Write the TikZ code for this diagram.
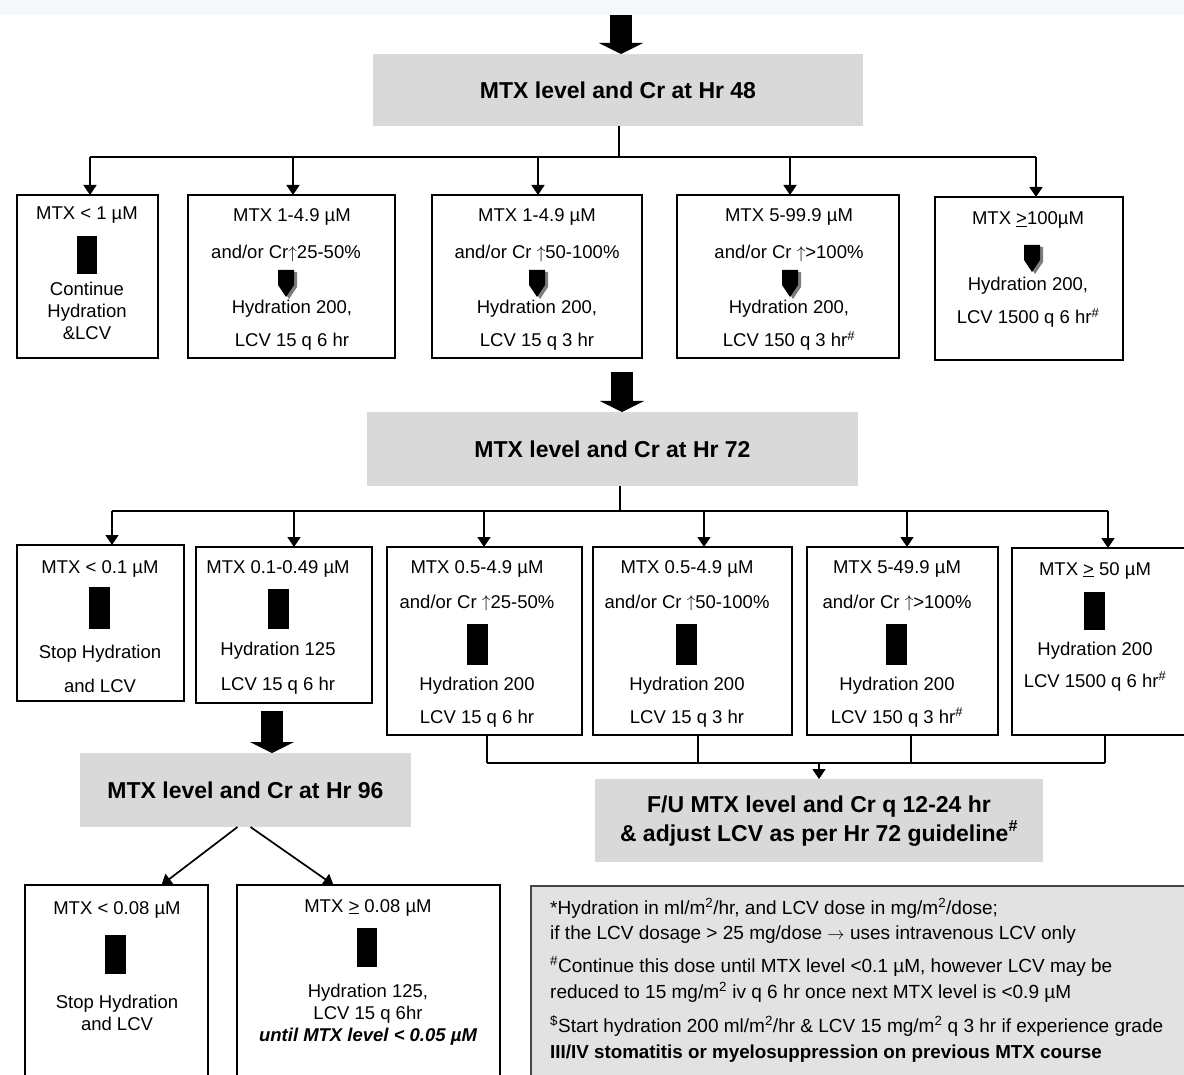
\documentclass[tikz,border=0pt]{standalone}
\usepackage{fontspec}
\setmainfont{Liberation Sans}
\usetikzlibrary{arrows.meta}
\definecolor{hdrgray}{RGB}{217,217,217}
\definecolor{fngray}{RGB}{226,226,226}
\definecolor{fnline}{RGB}{70,70,70}
\definecolor{topblue}{RGB}{245,249,252}
\definecolor{shadowgray}{RGB}{125,125,125}
\newcommand\upar{\raisebox{0.5pt}{$\uparrow$}}
\newcommand\rtar{$\rightarrow$}
\newcommand\shieldicon[2]{%
  \fill[shadowgray] (#1-5,#2+2) -- (#1+11,#2+2) -- (#1+11,#2+17) -- (#1+3,#2+29) -- (#1-5,#2+17) -- cycle;
  \fill[black] (#1-8,#2) -- (#1+8,#2) -- (#1+8,#2+15) -- (#1,#2+27) -- (#1-8,#2+15) -- cycle;}
\newcommand\fbar[4]{\fill[black] (#1,#2) rectangle (#3,#4);}
\begin{document}
\begin{tikzpicture}[x=1pt,y=-1pt,
  box/.style={draw=black, line width=1.5pt, fill=white, inner sep=0pt, outer sep=0pt},
  hdr/.style={fill=hdrgray, inner sep=0pt, outer sep=0pt, align=center,
              font=\fontsize{23}{29}\selectfont\bfseries},
  txt/.style={inner sep=0pt, anchor=base, font=\fontsize{18.5}{22}\selectfont},
  fn/.style={inner sep=0pt, anchor=base west, font=\fontsize{19}{23}\selectfont},
  conn/.style={line width=1.7pt},
  arr/.style={conn, -{Triangle[width=13pt,length=10pt]}},
  blk/.style={line width=22pt, -{Triangle[width=44pt,length=11pt]}}]
\useasboundingbox (0,0) rectangle (1184,1075);
\clip (0,0) rectangle (1184,1075);
\fill[white] (0,0) rectangle (1184,1075);
\fill[topblue] (0,0) rectangle (1184,15);

% ---------- headers ----------
\node[hdr, minimum width=490pt, minimum height=72pt] (h48) at (618,90) {MTX level and Cr at Hr 48};
\node[hdr, minimum width=491pt, minimum height=74pt] (h72) at (612.5,449) {MTX level and Cr at Hr 72};
\node[hdr, minimum width=331pt, minimum height=74pt] (h96) at (245.5,790) {MTX level and Cr at Hr 96};
\node[hdr, minimum width=448pt, minimum height=83pt] (fu) at (819,820.5) {};
\node[inner sep=0pt, anchor=base, font=\fontsize{23}{29}\selectfont\bfseries] (fu1) at (819,812) {F/U MTX level and Cr q 12-24 hr};
\node[inner sep=0pt, anchor=base, font=\fontsize{23}{29}\selectfont\bfseries] (fu2) at (819,841) {\& adjust LCV as per Hr 72 guideline\textsuperscript{\#}};

% ---------- row 1 boxes ----------
\node[box, minimum width=141pt, minimum height=163pt] (b1) at (87.5,276.5) {};
\node[box, minimum width=207pt, minimum height=163pt] (b2) at (291.5,276.5) {};
\node[box, minimum width=210pt, minimum height=163pt] (b3) at (537,276.5) {};
\node[box, minimum width=222pt, minimum height=163pt] (b4) at (788,276.5) {};
\node[box, minimum width=188pt, minimum height=163pt] (b5) at (1029,278.5) {};

\node[txt] (b1a) at (87,220) {MTX < 1 µM};
\fbar{77}{236}{97}{274}
\node[txt] (b1b) at (87,296) {Continue};
\node[txt] (b1c) at (87,318) {Hydration};
\node[txt] (b1d) at (87,340) {\&LCV};

\node[txt] (b2a) at (292,222) {MTX 1-4.9 µM};
\node[txt] (b2b) at (286,259) {and/or Cr\upar25-50\%};
\shieldicon{286}{270}
\node[txt] (b2c) at (292,314) {Hydration 200,};
\node[txt] (b2d) at (292,347) {LCV 15 q 6 hr};

\node[txt] (b3a) at (537,222) {MTX 1-4.9 µM};
\node[txt] (b3b) at (537,259) {and/or Cr \upar50-100\%};
\shieldicon{537}{270}
\node[txt] (b3c) at (537,314) {Hydration 200,};
\node[txt] (b3d) at (537,347) {LCV 15 q 3 hr};

\node[txt] (b4a) at (789,222) {MTX 5-99.9 µM};
\node[txt] (b4b) at (789,259) {and/or Cr \upar>100\%};
\shieldicon{790}{270}
\node[txt] (b4c) at (789,314) {Hydration 200,};
\node[txt] (b4d) at (789,347) {LCV 150 q 3 hr\textsuperscript{\#}};

\node[txt] (b5a) at (1028,225) {MTX \underline{>}100µM};
\shieldicon{1032}{245}
\node[txt] (b5b) at (1028,291) {Hydration 200,};
\node[txt] (b5c) at (1028,324) {LCV 1500 q 6 hr\textsuperscript{\#}};

% ---------- row 2 boxes ----------
\node[box, minimum width=167pt, minimum height=156pt] (c1) at (100.5,623) {};
\node[box, minimum width=176pt, minimum height=156pt] (c2) at (284,625) {};
\node[box, minimum width=195pt, minimum height=188pt] (c3) at (484.5,641) {};
\node[box, minimum width=199pt, minimum height=188pt] (c4) at (692.5,641) {};
\node[box, minimum width=191pt, minimum height=188pt] (c5) at (902.5,641) {};
\node[box, minimum width=178pt, minimum height=187pt] (c6) at (1101,641.5) {};

\node[txt] (c1a) at (100,573) {MTX < 0.1 µM};
\fbar{89}{587}{110}{629}
\node[txt] (c1b) at (100,658) {Stop Hydration};
\node[txt] (c1c) at (100,692) {and LCV};

\node[txt] (c2a) at (278,573) {MTX 0.1-0.49 µM};
\fbar{268}{589}{289}{629}
\node[txt] (c2b) at (278,655) {Hydration 125};
\node[txt] (c2c) at (278,690) {LCV 15 q 6 hr};

\node[txt] (c3a) at (477,573) {MTX 0.5-4.9 µM};
\node[txt] (c3b) at (477,608) {and/or Cr \upar25-50\%};
\fbar{467}{624}{488}{665}
\node[txt] (c3c) at (477,690) {Hydration 200};
\node[txt] (c3d) at (477,723) {LCV 15 q 6 hr};

\node[txt] (c4a) at (687,573) {MTX 0.5-4.9 µM};
\node[txt] (c4b) at (687,608) {and/or Cr \upar50-100\%};
\fbar{676}{624}{697}{665}
\node[txt] (c4c) at (687,690) {Hydration 200};
\node[txt] (c4d) at (687,723) {LCV 15 q 3 hr};

\node[txt] (c5a) at (897,573) {MTX 5-49.9 µM};
\node[txt] (c5b) at (897,608) {and/or Cr \upar>100\%};
\fbar{886}{624}{907}{665}
\node[txt] (c5c) at (897,690) {Hydration 200};
\node[txt] (c5d) at (897,723) {LCV 150 q 3 hr\textsuperscript{\#}};

\node[txt] (c6a) at (1095,575) {MTX \underline{>} 50 µM};
\fbar{1084}{592}{1105}{630}
\node[txt] (c6b) at (1095,655) {Hydration 200};
\node[txt] (c6c) at (1095,687) {LCV 1500 q 6 hr\textsuperscript{\#}};

% ---------- row 3 boxes ----------
\node[box, minimum width=183pt, minimum height=200pt] (d1) at (116.5,985) {};
\node[box, minimum width=263pt, minimum height=200pt] (d2) at (368.5,985) {};

\node[txt] (d1a) at (117,914) {MTX < 0.08 µM};
\fbar{105}{935}{126}{974}
\node[txt] (d1b) at (117,1008) {Stop Hydration};
\node[txt] (d1c) at (117,1030) {and LCV};

\node[txt] (d2a) at (368,912) {MTX \underline{>} 0.08 µM};
\fbar{357}{928}{377}{967}
\node[txt] (d2b) at (368,997) {Hydration 125,};
\node[txt] (d2c) at (368,1019) {LCV 15 q 6hr};
\node[txt, font=\fontsize{18.5}{22}\selectfont\bfseries\itshape] (d2d) at (368,1041) {until MTX level < 0.05 µM};

% ---------- footnote ----------
\node[draw=fnline, fill=fngray, line width=1.5pt, inner sep=0pt, outer sep=0pt,
      minimum width=659pt, minimum height=199pt] (fb) at (860.5,985.5) {};
\node[fn] (f1) at (550,914) {*Hydration in ml/m\textsuperscript{2}/hr, and LCV dose in mg/m\textsuperscript{2}/dose;};
\node[fn] (f2) at (550,939) {if the LCV dosage > 25 mg/dose \rtar{} uses intravenous LCV only};
\node[fn] (f3) at (550,972) {\textsuperscript{\#}Continue this dose until MTX level <0.1 µM, however LCV may be};
\node[fn] (f4) at (550,998) {reduced to 15 mg/m\textsuperscript{2} iv q 6 hr once next MTX level is <0.9 µM};
\node[fn] (f5) at (550,1032) {\textsuperscript{\$}Start hydration 200 ml/m\textsuperscript{2}/hr \& LCV 15 mg/m\textsuperscript{2} q 3 hr if experience grade};
\node[fn, font=\fontsize{18.8}{23}\selectfont\bfseries] (f6) at (550,1058) {III/IV stomatitis or myelosuppression on previous MTX course};

% ---------- connectors ----------
\coordinate (top) at (621,15);
\draw[blk] (top) -- (top |- h48.north);

\coordinate (j48) at (619,157);
\draw[conn] (h48.south -| j48) -- (j48);
\draw[conn] (90,157) -- (1036,157);
\foreach \x/\n in {90/b1,293/b2,538/b3,790/b4,1036/b5}
  \draw[arr] (\x,157) -- (\x,157 |- \n.north);

\coordinate (a2) at (622,372);
\draw[blk] (a2) -- (a2 |- h72.north);

\coordinate (j72) at (620,511);
\draw[conn] (h72.south -| j72) -- (j72);
\draw[conn] (112,511) -- (1108,511);
\foreach \x/\n in {112/c1,294/c2,484/c3,704/c4,907/c5,1108/c6}
  \draw[arr] (\x,511) -- (\x,511 |- \n.north);

\coordinate (a3) at (272,711);
\draw[blk] (a3) -- (a3 |- h96.north);

\foreach \x/\n in {487/c3,698/c4,911/c5,1105/c6}
  \draw[conn] (\x,763 |- \n.south) -- (\x,763);
\draw[conn] (487,763) -- (1105,763);
\coordinate (jfu) at (819,763);
\draw[arr] (jfu) -- (jfu |- fu.north);

\draw[arr] ([xshift=-8pt]h96.south) -- ([xshift=45pt]d1.north);
\draw[arr] ([xshift=5pt]h96.south) -- ([xshift=-35pt]d2.north);
\end{tikzpicture}
\end{document}
